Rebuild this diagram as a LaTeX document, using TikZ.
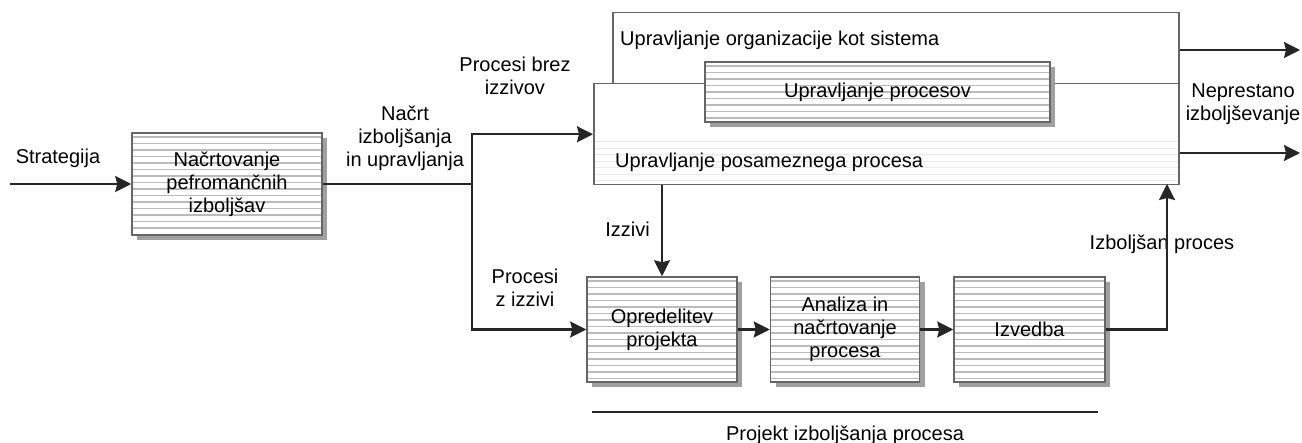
\documentclass[tikz,border=0pt]{standalone}
\usepackage{fontspec}
\setmainfont{Liberation Sans}
\usepackage{tikz}
\usetikzlibrary{arrows.meta,positioning,shadows}
\definecolor{LineGray}{HTML}{262626}
\definecolor{EdgeGray}{HTML}{666666}
\definecolor{StripeGray}{HTML}{BBBBBB}
\definecolor{ShadeGray}{HTML}{A0A0A0}
\definecolor{FaintGray}{HTML}{EAEAEA}

\tikzset{
  flow/.style={line width=2.2pt, LineGray},
  txt/.style={inner sep=0pt, align=center},
  plainbox/.style={draw=EdgeGray, line width=1.5pt, fill=white, inner sep=0pt},
  singlebox/.style={plainbox,
    path picture={\foreach \yy in {58,64.5,...,100}
      \draw[FaintGray, line width=1.4pt] ([yshift=-\yy pt]path picture bounding box.north west) -- ([yshift=-\yy pt]path picture bounding box.north east);}},
  stripebox/.style={draw=EdgeGray, line width=1.5pt, fill=white, align=center, inner sep=0pt,
    drop shadow={shadow xshift=5pt, shadow yshift=-5pt, fill=ShadeGray, opacity=1},
    path picture={\foreach \yy in {4,10.5,...,110}
      \draw[StripeGray, line width=1.6pt] ([yshift=-\yy pt]path picture bounding box.north west) -- ([yshift=-\yy pt]path picture bounding box.north east);}}
}

\begin{document}
\begin{tikzpicture}[x=1pt, y=-1pt, >={Stealth[length=16pt, width=16pt, inset=2pt]},
    font=\fontsize{20}{23}\selectfont]
    \useasboundingbox (0,0) rectangle (1302,443);

    % Planning box
    \node[stripebox, minimum width=190pt, minimum height=102pt] (plan) at (227,184) {Načrtovanje\\pefromančnih\\izboljšav};

    % Management boxes
    \node[plainbox, anchor=north west, minimum width=566pt, minimum height=71pt] (system) at (612,12) {};
    \node[singlebox, anchor=north west, minimum width=585pt, minimum height=101pt] (single) at (593,83) {};
    \node[stripebox, minimum width=345pt, minimum height=60pt] (procs) at (877.5,92) {Upravljanje procesov};
    \node[txt, anchor=west] (systemtxt) at (620,40) {Upravljanje organizacije kot sistema};
    \node[txt, anchor=west] (singletxt) at (615,162) {Upravljanje posameznega procesa};

    % Project steps
    \node[stripebox, minimum width=150pt, minimum height=105pt] (define) at (662,329.5) {Opredelitev\\projekta};
    \node[stripebox, minimum width=149pt, minimum height=105pt, right=32pt of define] (analysis) {Analiza in\\načrtovanje\\procesa};
    \node[stripebox, minimum width=151pt, minimum height=105pt, right=33pt of analysis] (exec) {Izvedba};

    % Labels
    \node[txt] (strattxt) at (58,158) {Strategija};
    \node[txt] (drafttxt) at (405,138) {Načrt\\izboljšanja\\in upravljanja};
    \node[txt] (easytxt) at (515,76) {Procesi brez\\izzivov};
    \node[txt] (hardtxt) at (525,288) {Procesi\\z izzivi};
    \node[txt, anchor=east] (challtxt) at (650,229) {Izzivi};
    \node[txt] (improvtxt) at (1162,244) {Izboljšan proces};
    \node[txt] (conttxt) at (1243,104) {Neprestano\\izboljševanje};
    \node[txt] (projtxt) at (845,435) {Projekt izboljšanja procesa};

    % Free ends
    \coordinate (stratin) at (10,184);
    \coordinate (split) at (472,184);
    \coordinate (retn) at (1167,184);
    \coordinate (outtop) at (1300,50);
    \coordinate (outbot) at (1300,153);
    \coordinate (projL) at (592,412);
    \coordinate (projR) at (1098,412);

    % Connectors
    \draw[flow, ->] (stratin) -- (plan.west);
    \draw[flow] (plan.east) -- (split);
    \draw[flow, ->] (split) |- (single.west);
    \draw[flow, ->] (split) |- (define.west);
    \draw[flow, ->] (single.south -| define.north) -- (define.north);
    \draw[flow, ->] (define) -- (analysis);
    \draw[flow, ->] (analysis) -- (exec);
    \draw[flow, ->] (exec) -| (retn);
    \draw[flow, ->] (system.east |- outtop) -- (outtop);
    \draw[flow, ->] (single.east |- outbot) -- (outbot);
    \draw[flow] (projL) -- (projR);
\end{tikzpicture}
\end{document}
